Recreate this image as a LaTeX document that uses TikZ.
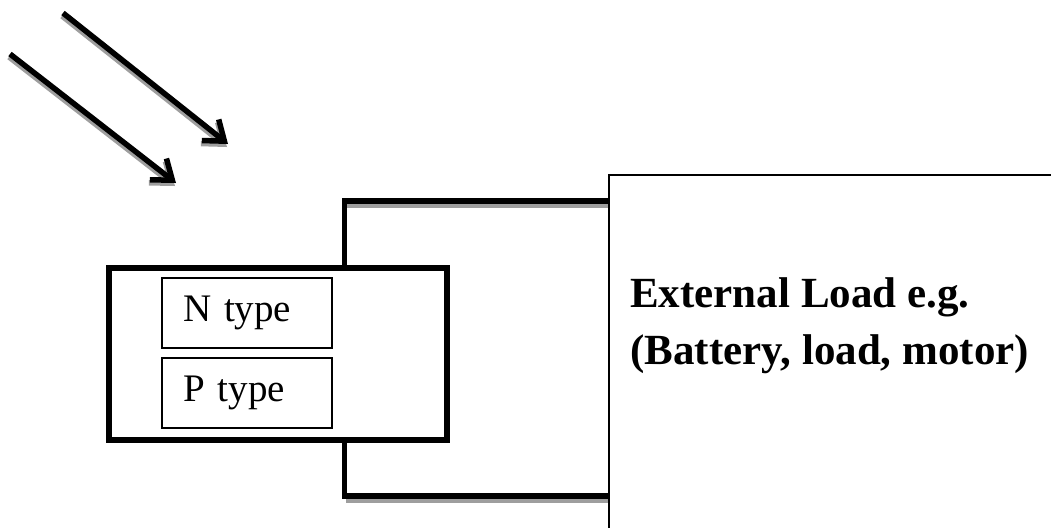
\documentclass[tikz,border=0pt]{standalone}
\usepackage{fontspec}
\setmainfont{Liberation Serif}
\usetikzlibrary{arrows.meta}

\tikzset{
  ray/.style={line width=5.5pt,-{Straight Barb[length=18pt,width=27pt,line width=5.5pt]}},
  wire/.style={line width=5.5pt},
  shade/.style={draw=black!38,line width=5pt},
  junction/.style={draw,line width=6pt,inner sep=0pt,minimum width=338pt,minimum height=172pt},
  layer/.style={draw,line width=2pt,inner xsep=21pt,inner ysep=0pt,text width=128pt,align=left,minimum height=70pt,font=\fontsize{39}{39}\selectfont}
}

\begin{document}
\begin{tikzpicture}[x=1pt,y=-1pt]
\useasboundingbox (0,0) rectangle (1051,528);
\coordinate (ray1a) at (63,13);
\coordinate (ray1b) at (228,144);
\coordinate (ray2a) at (10,54);
\coordinate (ray2b) at (176,183);
\draw[ray,black!38] ([shift={(-1,3)}]ray1a) -- ([shift={(-1,3)}]ray1b);
\draw[ray,black!38] ([shift={(-1,3)}]ray2a) -- ([shift={(-1,3)}]ray2b);
\draw[ray] (ray1a) -- (ray1b);
\draw[ray] (ray2a) -- (ray2b);

\node[junction] (cell) at (277.5,354) {};
\node[layer] (ntype) at (247,312.5) {N type};
\node[layer] (ptype) at (247,392.5) {P type};

\coordinate (topout) at (344.5,265);
\coordinate (botout) at (344.5,443);
\coordinate (topin) at (609,201);
\coordinate (botin) at (609,496);
\coordinate (topbend) at (344.5,201);
\coordinate (botbend) at (344.5,496);
\draw[shade] ([shift={(1,4)}]topbend) -- ([shift={(0,4)}]topin);
\draw[shade] ([shift={(1,4)}]botbend) -- ([shift={(0,4)}]botin);
\draw[wire] (topout) |- (topin);
\draw[wire] (botout) |- (botin);

\coordinate (loadtl) at (609,175);
\coordinate (loadtr) at (1051,175);
\coordinate (loadbl) at (609,528);
\draw[line width=2pt] (loadtr) -- (loadtl) -- (loadbl);
\node[anchor=base west,inner sep=0pt,align=left,font=\fontsize{43}{57}\selectfont\bfseries] (loadtext) at (630,364) {External Load e.g.\\(Battery, load, motor)};
\end{tikzpicture}
\end{document}
